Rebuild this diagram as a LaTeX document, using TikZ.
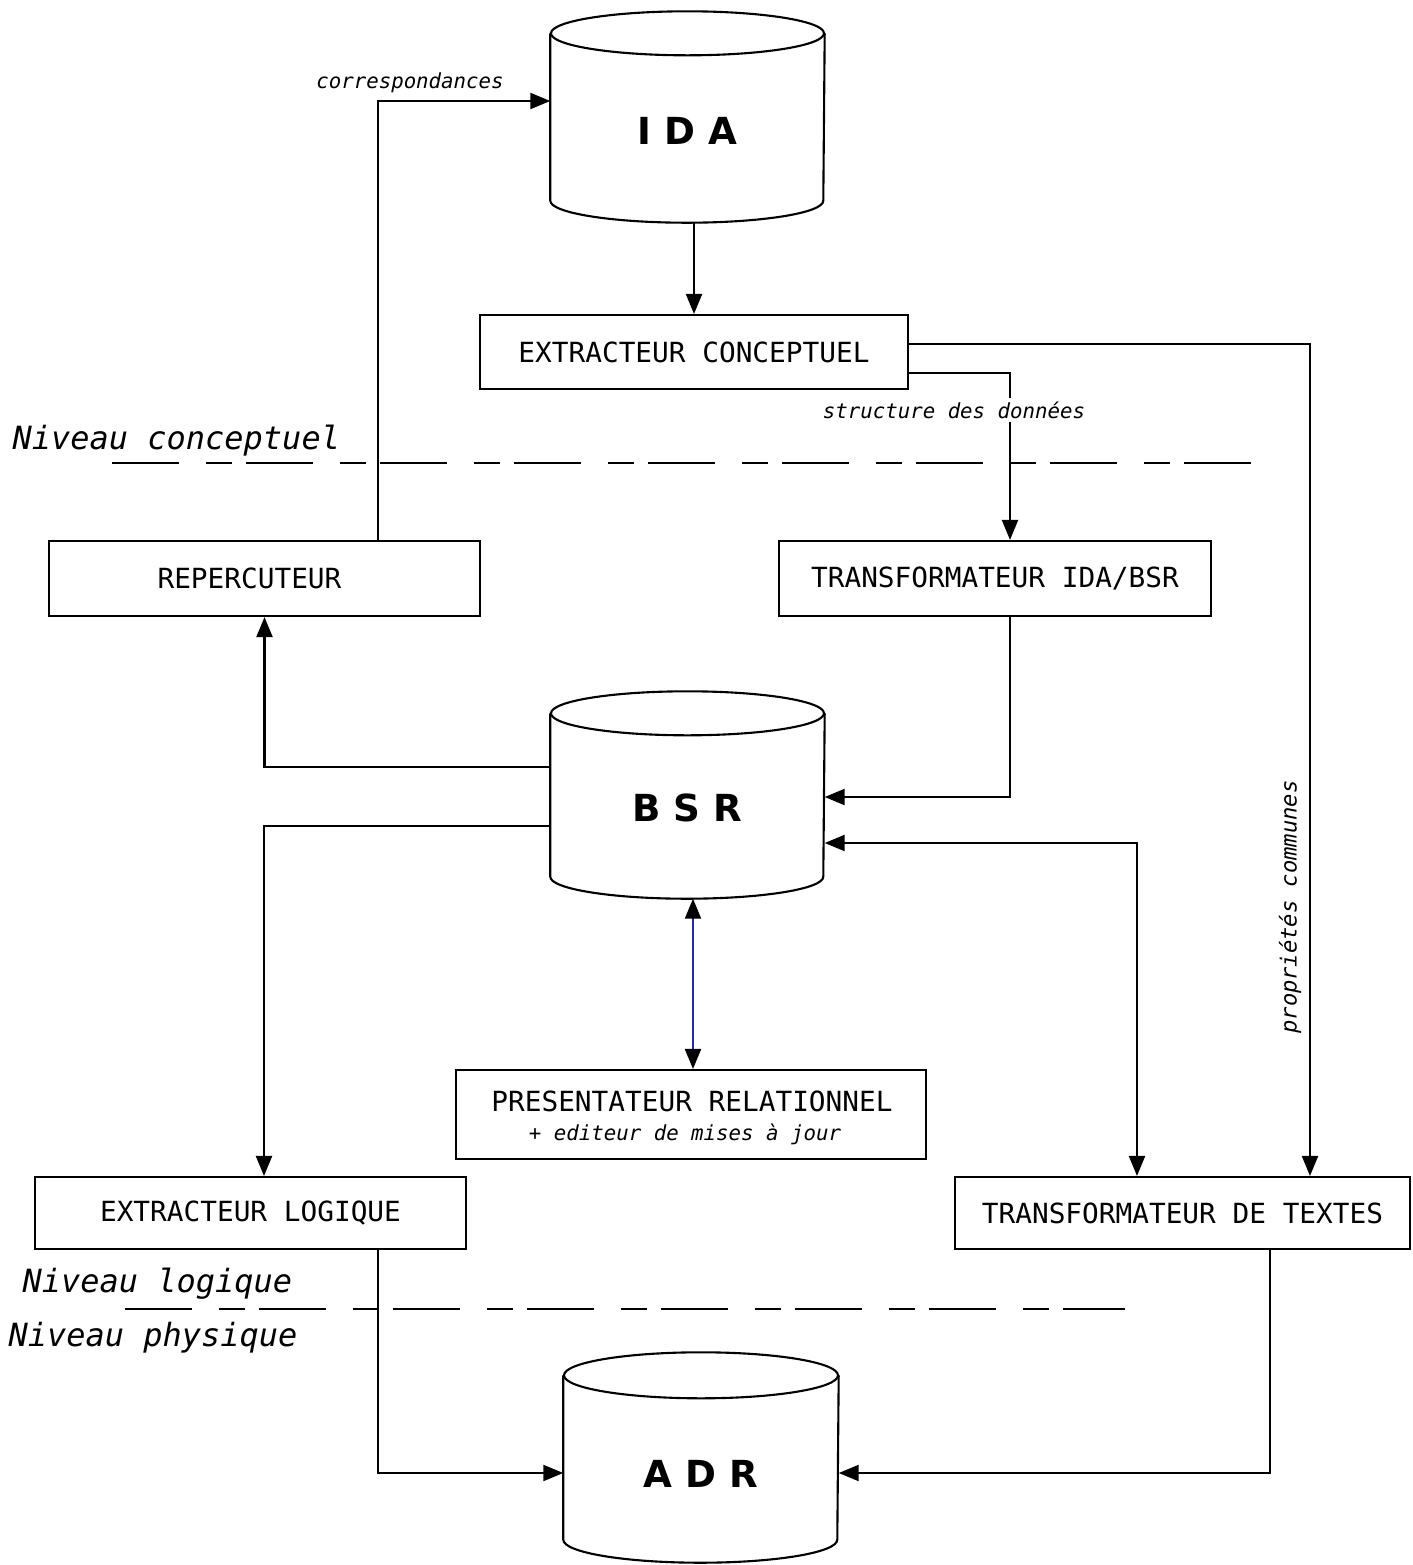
\documentclass[tikz,border=0pt]{standalone}
\usepackage{fontspec}
\setmainfont{DejaVu Sans}
\newfontfamily\monofont[ItalicFont={* Oblique},BoldFont={* Bold}]{DejaVu Sans Mono}
\usetikzlibrary{arrows.meta,calc}
\newcommand\boxfont{\monofont\fontsize{7.9}{9.5}\selectfont}
\newcommand\smallit{\monofont\itshape\fontsize{5.9}{7}\selectfont}
\newcommand\propfont{\monofont\itshape\fontsize{6.3}{7.5}\selectfont}
\newcommand\levelfont{\monofont\itshape\fontsize{9.1}{11}\selectfont}
\newcommand\cylfont{\bfseries\fontsize{10.6}{13}\selectfont}
\definecolor{lineblue}{RGB}{40,40,160}
\newcommand\drawcyl[3]{%
  \draw[ln] ([yshift=-#3]#1.north) ellipse [x radius=#2, y radius=#3];
  \draw[ln] ([yshift=-#3]#1.north west) -- ([yshift=#3]#1.south west)
    arc[start angle=180,end angle=360,x radius=#2,y radius=#3]
    -- ([yshift=-#3]#1.north east);}
\begin{document}
\begin{tikzpicture}[x=0.1mm,y=-0.1mm,
  ln/.style={line width=0.6pt},
  boxnode/.style={draw,line width=0.6pt,inner sep=0pt,font=\boxfont},
  arr/.style={ln,-{Triangle[length=2mm,width=1.6mm]}},
  darr/.style={ln,{Triangle[length=2mm,width=1.6mm]}-{Triangle[length=2mm,width=1.6mm]}},
  bdarr/.style={ln,draw=lineblue,{Triangle[length=2mm,width=1.6mm,color=black]}-{Triangle[length=2mm,width=1.6mm,color=black]}},
  lab/.style={inner sep=1pt,font=\smallit},
  level/.style={inner sep=0pt,font=\levelfont,anchor=west},
  cyl/.style={inner sep=0pt,minimum width=27.3mm},
  cyltext/.style={font=\cylfont,inner sep=0pt},
  levelline/.style={line width=0.6pt,dash pattern=on 6.7mm off 2.7mm on 2.6mm off 1.4mm}]
\useasboundingbox (0,0) rectangle (1412,1565);
\fill[white] (0,0) rectangle (1412,1565);

% cylinders
\node[cyl,minimum height=21mm] (ida) at (687.5,117) {};
\node[cyl,minimum height=20.6mm] (bsr) at (687.5,795) {};
\node[cyl,minimum width=27.4mm,minimum height=20.9mm] (adr) at (701,1457.5) {};
\drawcyl{ida}{13.65mm}{2.2mm}
\drawcyl{bsr}{13.65mm}{2.2mm}
\drawcyl{adr}{13.7mm}{2.3mm}
\node[cyltext] (idat) at ([yshift=-1.4mm]ida.center) {I D A};
\node[cyltext] (bsrt) at ([yshift=-1.3mm]bsr.center) {B S R};
\node[cyltext] (adrt) at ([yshift=-1.6mm]adr.center) {A D R};

% boxes
\node[boxnode,minimum width=42.8mm,minimum height=7.4mm] (ec) at (694,352) {EXTRACTEUR CONCEPTUEL};
\node[boxnode,minimum width=43.1mm,minimum height=7.5mm] (rep) at (264.5,578.5) {REPERCUTEUR\hspace*{3mm}};
\node[boxnode,minimum width=43.2mm,minimum height=7.5mm] (tib) at (995,578.5) {TRANSFORMATEUR IDA/BSR};
\node[boxnode,minimum width=47mm,minimum height=8.9mm] (pr) at (691,1114.5) {};
\node[font=\boxfont,inner sep=0pt] (prt1) at (692,1101) {PRESENTATEUR RELATIONNEL};
\node[lab] (prt2) at (685,1134) {+ editeur de mises à jour};
\node[boxnode,minimum width=43.1mm,minimum height=7.2mm] (el) at (250.5,1213) {EXTRACTEUR LOGIQUE};
\node[boxnode,minimum width=45.5mm,minimum height=7.2mm] (tdt) at (1182.5,1213) {TRANSFORMATEUR DE TEXTES};

% level lines and labels
\draw[levelline] (112,463) -- (1255,463);
\draw[levelline] (125,1309) -- (1125,1309);
\node[level] (nc) at (12,441) {Niveau conceptuel};
\node[level] (nl) at (22,1284) {Niveau logique};
\node[level] (np) at (8,1338) {Niveau physique};

% connectors
\draw[arr] (ec.north |- ida.south) -- (ec.north);
\draw[arr] ([yshift=0.8mm]ec.east) -| ([xshift=12.75mm]tdt.north);
\draw[arr] ([yshift=-2.1mm]ec.east) -| ([xshift=1.5mm]tib.north);
\draw[arr] ([xshift=11.35mm]rep.north) |- ([yshift=1.6mm]ida.west);
\draw[arr] ([xshift=1.5mm]tib.south) |- ([yshift=-0.2mm]bsr.east);
\draw[arr] ([yshift=2.8mm]bsr.west) -| (rep.south);
\draw[arr] ([yshift=-3.1mm]bsr.west) -| ([xshift=1.35mm]el.north);
\draw[darr] ([yshift=-4.8mm]bsr.east) -| ([xshift=-4.55mm]tdt.north);
\draw[bdarr] ([xshift=0.55mm]bsr.south) -- ([xshift=0.55mm]bsr.south |- pr.north);
\draw[arr] ([xshift=12.75mm]el.south) |- ([yshift=-1.55mm]adr.west);
\draw[arr] ([xshift=8.75mm]tdt.south) |- ([yshift=-1.55mm]adr.east);

% connector labels
\node[lab] (corr) at (410,83) {correspondances};
\node[lab,fill=white] (struct) at (954,410) {structure des données};
\node[inner sep=1pt,font=\propfont,rotate=90] (prop) at (1290,907) {propriétés communes};
\end{tikzpicture}
\end{document}
